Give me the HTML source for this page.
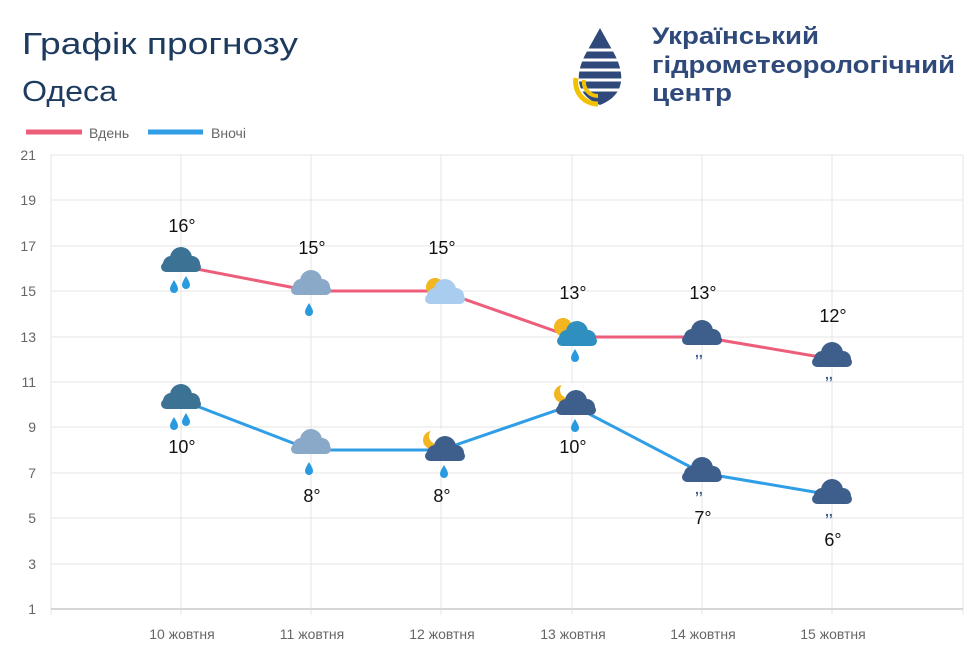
<!DOCTYPE html>
<html><head><meta charset="utf-8"><style>
body{margin:0;background:#fff;width:974px;height:662px;overflow:hidden;font-family:"Liberation Sans",sans-serif}
</style></head><body>
<svg width="974" height="662" xmlns="http://www.w3.org/2000/svg" font-family="Liberation Sans, sans-serif">
<defs>
<g id="cloud"><circle cx="-10" cy="2" r="8"/><circle cx="0" cy="-4" r="11"/><circle cx="11" cy="2" r="8"/><rect x="-20" y="0" width="40" height="10" rx="5"/></g>
<g id="drop"><path d="M0,-6 C3,-1 4,1 4,3 A4,4 0 0 1 -4,3 C-4,1 -3,-1 0,-6Z" fill="#2a9ae0"/></g>
</defs>
<text x="22" y="54" font-size="31" fill="#1d3a5f" textLength="276" lengthAdjust="spacingAndGlyphs">Графік прогнозу</text>
<text x="22" y="101" font-size="29" fill="#1d3a5f" textLength="95" lengthAdjust="spacingAndGlyphs">Одеса</text>
<g>
<path d="M600,28 L585,55 C575,75 575,95 600,105 C625,95 625,75 615,55Z" fill="#2f4a7a"/>
<g stroke="#fff" stroke-width="3"><line x1="575" y1="50" x2="625" y2="50"/><line x1="575" y1="60" x2="625" y2="60"/><line x1="575" y1="70" x2="625" y2="70"/><line x1="575" y1="80" x2="625" y2="80"/><line x1="575" y1="90" x2="625" y2="90"/></g>
<path d="M576,78 A22,22 0 0 0 598,104" stroke="#f2c200" stroke-width="5" fill="none"/>
<path d="M584,80 A14,14 0 0 0 598,96" stroke="#f2c200" stroke-width="4" fill="none"/>
</g>
<g font-size="24" font-weight="bold" fill="#2f4a7a">
<text x="652" y="44" textLength="167" lengthAdjust="spacingAndGlyphs">Український</text><text x="652" y="73" textLength="303" lengthAdjust="spacingAndGlyphs">гідрометеорологічний</text><text x="652" y="101" textLength="80" lengthAdjust="spacingAndGlyphs">центр</text></g>
<line x1="26" y1="132" x2="82" y2="132" stroke="#ec5e7a" stroke-width="5"/>
<text x="89" y="138" font-size="14" fill="#666">Вдень</text>
<line x1="148" y1="132" x2="203" y2="132" stroke="#2f9ee6" stroke-width="5"/>
<text x="211" y="138" font-size="14" fill="#666">Вночі</text>
<g stroke="#e4e4e4" stroke-width="1">
<line x1="51" y1="155" x2="963" y2="155"/><line x1="51" y1="200" x2="963" y2="200"/><line x1="51" y1="246" x2="963" y2="246"/><line x1="51" y1="291" x2="963" y2="291"/><line x1="51" y1="337" x2="963" y2="337"/><line x1="51" y1="382" x2="963" y2="382"/><line x1="51" y1="427" x2="963" y2="427"/><line x1="51" y1="473" x2="963" y2="473"/><line x1="51" y1="518" x2="963" y2="518"/><line x1="51" y1="564" x2="963" y2="564"/>
<line x1="51" y1="155" x2="51" y2="615"/><line x1="181" y1="155" x2="181" y2="615"/><line x1="311" y1="155" x2="311" y2="615"/><line x1="441" y1="155" x2="441" y2="615"/><line x1="572" y1="155" x2="572" y2="615"/><line x1="702" y1="155" x2="702" y2="615"/><line x1="832" y1="155" x2="832" y2="615"/><line x1="963" y1="155" x2="963" y2="615"/>
</g>
<line x1="51" y1="609" x2="963" y2="609" stroke="#d6d6d6" stroke-width="2"/>
<g font-size="14" fill="#666" text-anchor="end">
<text x="36" y="160">21</text><text x="36" y="205">19</text><text x="36" y="251">17</text><text x="36" y="296">15</text><text x="36" y="342">13</text><text x="36" y="387">11</text><text x="36" y="432">9</text><text x="36" y="478">7</text><text x="36" y="523">5</text><text x="36" y="569">3</text><text x="36" y="614">1</text></g>
<g font-size="14" fill="#666" text-anchor="middle">
<text x="182" y="639">10 жовтня</text><text x="312" y="639">11 жовтня</text><text x="442" y="639">12 жовтня</text><text x="573" y="639">13 жовтня</text><text x="703" y="639">14 жовтня</text><text x="833" y="639">15 жовтня</text></g>
<polyline points="181,266 311,291 441,291 572,337 702,337 832,359" fill="none" stroke="#ec5e7a" stroke-width="3"/>
<polyline points="181,400 311,450 441,450 572,405 702,473 832,495" fill="none" stroke="#2f9ee6" stroke-width="3"/>
<g fill="#3c7395"><use href="#cloud" x="181" y="262"/><use href="#cloud" x="181" y="399"/></g>
<use href="#drop" x="174" y="286"/><use href="#drop" x="186" y="282"/><use href="#drop" x="174" y="423"/><use href="#drop" x="186" y="419"/>
<g fill="#8aa8c8"><use href="#cloud" x="311" y="285"/><use href="#cloud" x="311" y="444"/></g>
<use href="#drop" x="309" y="309"/><use href="#drop" x="309" y="468"/>
<circle cx="435" cy="287" r="9" fill="#f2b620"/><g fill="#a9cdee"><use href="#cloud" x="445" y="294"/></g>
<circle cx="563" cy="327" r="9" fill="#f2b620"/><g fill="#2f8fbf"><use href="#cloud" x="577" y="336"/></g><use href="#drop" x="575" y="355"/>
<circle cx="432" cy="440" r="9" fill="#f2b620"/><circle cx="437" cy="436" r="8" fill="#fff"/>
<circle cx="563" cy="394" r="9" fill="#f2b620"/><circle cx="568" cy="390" r="8" fill="#fff"/>
<g fill="#3e5f8c"><use href="#cloud" x="445" y="451"/><use href="#cloud" x="576" y="405"/><use href="#cloud" x="702" y="335"/><use href="#cloud" x="832" y="357"/><use href="#cloud" x="702" y="472"/><use href="#cloud" x="832" y="494"/></g>
<use href="#drop" x="444" y="471"/><use href="#drop" x="575" y="425"/>
<g font-size="14" font-weight="bold" fill="#3e5f8c"><text x="695" y="357">,,</text><text x="825" y="379">,,</text><text x="695" y="494">,,</text><text x="825" y="516">,,</text></g>
<g font-size="18" fill="#111" text-anchor="middle">
<text x="182" y="232">16°</text><text x="312" y="254">15°</text><text x="442" y="254">15°</text><text x="573" y="299">13°</text><text x="703" y="299">13°</text><text x="833" y="322">12°</text>
<text x="182" y="453">10°</text><text x="312" y="502">8°</text><text x="442" y="502">8°</text><text x="573" y="453">10°</text><text x="703" y="524">7°</text><text x="833" y="546">6°</text></g>
</svg>
</body></html>
